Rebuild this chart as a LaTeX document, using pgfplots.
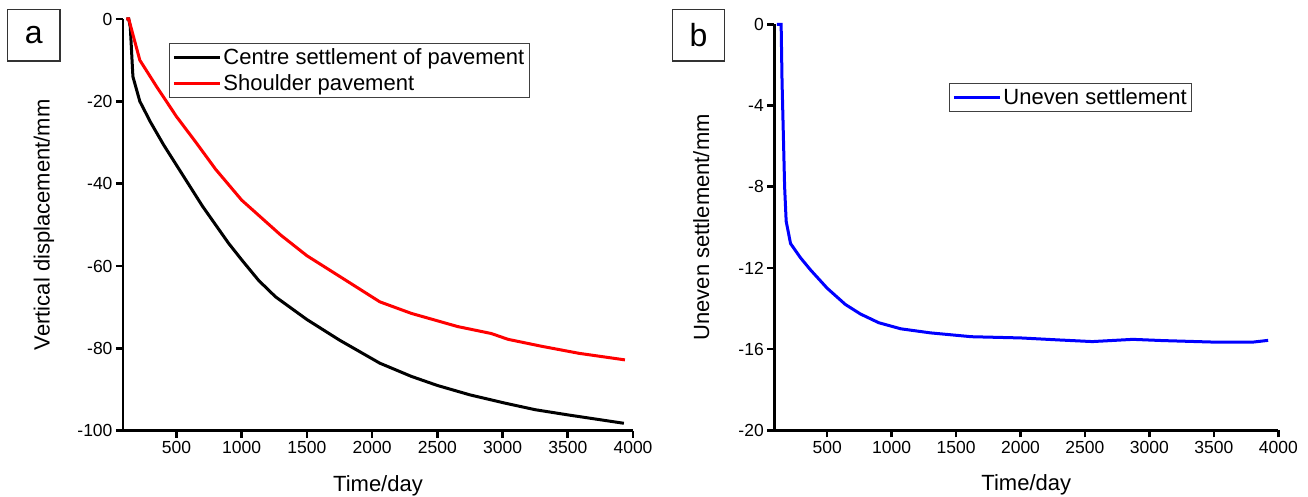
\documentclass[border=0pt]{standalone}
\usepackage{fontspec}
\setmainfont{Liberation Sans}
\usepackage{pgfplots}
\pgfplotsset{compat=1.18}

\pgfplotsset{
  panel/.style={
    scale only axis,
    anchor=south west,
    axis x line=bottom,
    axis y line=left,
    axis line style={-, line width=2.6pt},
    tick style={line width=2.6pt, black},
    major tick length=7pt,
    tick align=outside,
    xmin=90, xmax=4000,
    xtick={500,1000,...,4000},
    /pgf/number format/assume math mode=true,
    /pgf/number format/1000 sep={},
    tick label style={font=\fontsize{17.5}{19}\selectfont},
    label style={font=\fontsize{22}{25}\selectfont},
    legend cell align=left,
    legend style={draw=black!75, line width=0.8pt,
      font=\fontsize{22}{25}\selectfont,
      inner xsep=3pt, inner ysep=3.5pt, row sep=4pt},
    legend image code/.code={\draw[#1] (0pt,0pt) -- (46pt,0pt);},
    clip=false,
  }
}

\begin{document}
\begin{tikzpicture}[x=1pt,y=1pt]
\useasboundingbox (0,0) rectangle (1308,497);

% panel a
\begin{axis}[panel,
  at={(123pt,66.3pt)}, width=510pt, height=411.7pt,
  ymin=-100, ymax=0, ytick={-100,-80,...,0},
  xlabel={Time/day}, ylabel={Vertical displacement/mm},
  xlabel style={at={(axis description cs:0.5,-0.1465)}, anchor=base},
  ylabel style={at={(axis description cs:-0.155,0.5)}, anchor=center},
  legend style={at={(axis description cs:0.0902,0.9417)}, anchor=north west},
]
\addplot[black, line width=3pt] coordinates {
  (115,0) (134,0) (146,-2) (166,-14) (219,-20) (300,-25) (400,-30.5)
  (500,-35.5) (600,-40.5) (700,-45.5) (800,-50) (900,-54.5) (1000,-58.5)
  (1130,-63.5) (1260,-67.5) (1500,-73) (1750,-78) (2059,-83.6)
  (2300,-86.8) (2499,-89) (2750,-91.3) (3018,-93.3) (3250,-94.9)
  (3509,-96.2) (3930,-98.2)
};
\addlegendentry{Centre settlement of pavement}
\addplot[red, line width=3pt] coordinates {
  (115,0) (134,0) (219,-10) (347,-16.4) (500,-23.7) (650,-30) (800,-36.5)
  (1000,-44) (1300,-52.5) (1500,-57.5) (1750,-62.5) (2059,-68.7)
  (2300,-71.5) (2655,-74.7) (2914,-76.4) (3041,-77.8) (3300,-79.5)
  (3585,-81.2) (3938,-82.8)
};
\addlegendentry{Shoulder pavement}
\end{axis}

% panel b
\begin{axis}[panel,
  at={(774.3pt,66.7pt)}, width=504pt, height=406pt,
  ymin=-20, ymax=0, ytick={-20,-16,...,0},
  xlabel={Time/day}, ylabel={Uneven settlement/mm},
  xlabel style={at={(axis description cs:0.5,-0.1495)}, anchor=base},
  ylabel style={at={(axis description cs:-0.145,0.5)}, anchor=center},
  legend style={at={(axis description cs:0.3466,0.8554)}, anchor=north west},
]
\addplot[blue, line width=3pt] coordinates {
  (110,0) (143,0) (150,-2.8) (170,-8) (182,-9.7) (216,-10.8) (293,-11.5)
  (371,-12.1) (500,-13.0) (641,-13.8) (758,-14.27) (900,-14.7)
  (1071,-15.0) (1300,-15.2) (1619,-15.39) (2000,-15.45) (2300,-15.55)
  (2557,-15.63) (2700,-15.58) (2872,-15.52) (3100,-15.58) (3526,-15.66)
  (3797,-15.66) (3921,-15.57)
};
\addlegendentry{Uneven settlement}
\end{axis}

% panel letters
\draw[line width=1.2pt, black!80] (7.5,436) rectangle (60,487.7);
\node[font=\fontsize{32}{36}\selectfont] at (33.7,461.8) {a};
\draw[line width=1.2pt, black!80] (672.6,436) rectangle (724.6,487.7);
\node[font=\fontsize{32}{36}\selectfont] at (698.6,461.8) {b};
\end{tikzpicture}
\end{document}
